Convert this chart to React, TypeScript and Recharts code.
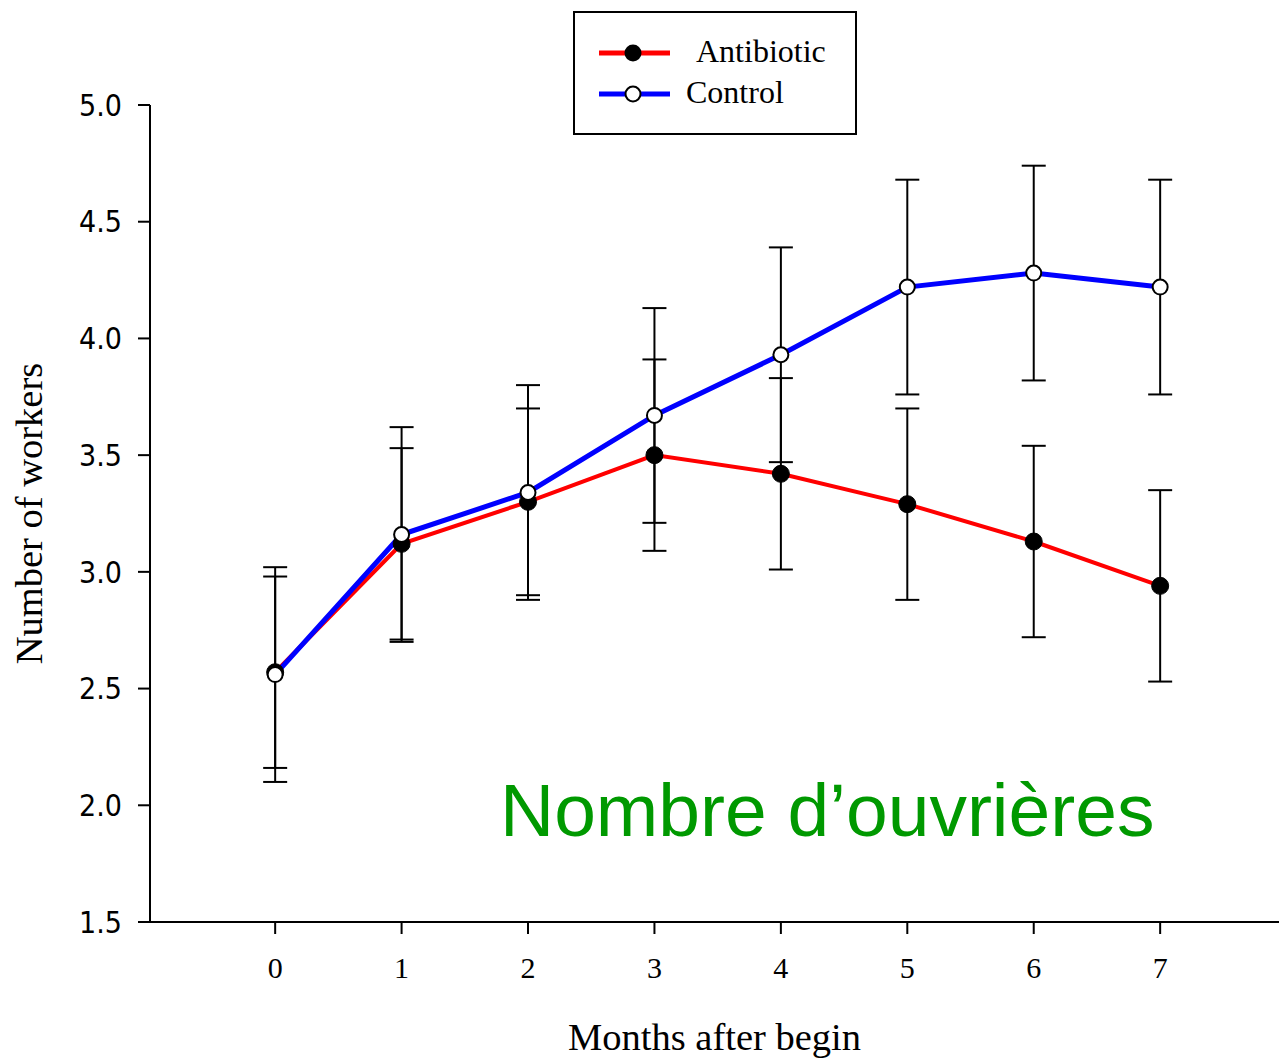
import { LineChart, Line, XAxis, YAxis, ErrorBar } from 'recharts'

const months = [0, 1, 2, 3, 4, 5, 6, 7]
const antibiotic = [2.57, 3.12, 3.30, 3.50, 3.42, 3.29, 3.13, 2.94]
const antibioticErr = [0.41, 0.41, 0.40, 0.41, 0.41, 0.41, 0.41, 0.41]
const control = [2.56, 3.16, 3.34, 3.67, 3.93, 4.22, 4.28, 4.22]
const controlErr = [0.46, 0.46, 0.46, 0.46, 0.46, 0.46, 0.46, 0.46]
const yTicks = [1.5, 2.0, 2.5, 3.0, 3.5, 4.0, 4.5, 5.0]

const data = months.map((m, i) => ({
  month: m,
  antibiotic: antibiotic[i],
  antibioticErr: antibioticErr[i],
  control: control[i],
  controlErr: controlErr[i],
}))

const serif = "'Liberation Serif', 'Times New Roman', serif"

// legend drawn as a plain box on top of the chart
const LegendBox = () => (
  <div
    style={{
      position: 'absolute',
      left: 573,
      top: 11,
      width: 280,
      height: 120,
      border: '2px solid black',
      background: 'white',
      fontFamily: serif,
      fontSize: 32,
      color: 'black',
    }}
  >
    <svg width={80} height={100} style={{ position: 'absolute', left: 22, top: 8 }}>
      <line x1={2} y1={32} x2={73} y2={32} stroke="#ff0000" strokeWidth={5} />
      <circle cx={36} cy={32} r={8.5} fill="black" />
      <line x1={2} y1={73} x2={73} y2={73} stroke="#0000ff" strokeWidth={5} />
      <circle cx={36} cy={73} r={7.5} fill="white" stroke="black" strokeWidth={2} />
    </svg>
    <div style={{ position: 'absolute', left: 121, top: 20 }}>Antibiotic</div>
    <div style={{ position: 'absolute', left: 111, top: 61 }}>Control</div>
  </div>
)

const WorkersChart = () => {
  return (
    <div style={{ position: 'absolute', left: 0, top: 0, width: 1279, height: 1059, background: 'white' }}>
      <LineChart
        width={1279}
        height={1059}
        data={data}
        margin={{ top: 105, right: 0, bottom: 0, left: 0 }}
      >
        <XAxis
          dataKey="month"
          type="number"
          domain={[-0.99, 7.94]}
          allowDataOverflow
          ticks={months}
          height={137}
          tickSize={12}
          tickMargin={23}
          stroke="black"
          strokeWidth={2}
          tick={{ fill: 'black', fontFamily: serif, fontSize: 30 }}
          label={{
            value: 'Months after begin',
            position: 'insideBottom',
            offset: 9,
            style: { fill: 'black', fontFamily: serif, fontSize: 38.5 },
          }}
        />
        <YAxis
          type="number"
          domain={[1.5, 5]}
          ticks={yTicks}
          width={150}
          tickSize={12}
          tickMargin={16}
          stroke="black"
          strokeWidth={2}
          tickFormatter={(v: number) => v.toFixed(1)}
          tick={{ fill: 'black', fontFamily: "'DejaVu Sans Condensed', 'DejaVu Sans', sans-serif", fontSize: 30, fontStretch: 'condensed' }}
          label={{
            value: 'Number of workers',
            angle: -90,
            position: 'insideLeft',
            offset: 28,
            style: { textAnchor: 'middle', fill: 'black', fontFamily: serif, fontSize: 38.5 },
          }}
        />
        <Line
          dataKey="antibiotic"
          name="Antibiotic"
          stroke="#ff0000"
          strokeWidth={4}
          dot={{ r: 8.5, fill: 'black', stroke: 'black', strokeWidth: 1 }}
          activeDot={false}
          isAnimationActive={false}
        >
          <ErrorBar dataKey="antibioticErr" width={12} stroke="black" strokeWidth={2} />
        </Line>
        <Line
          dataKey="control"
          name="Control"
          stroke="#0000ff"
          strokeWidth={5}
          dot={{ r: 7.5, fill: 'white', stroke: 'black', strokeWidth: 2 }}
          activeDot={false}
          isAnimationActive={false}
        >
          <ErrorBar dataKey="controlErr" width={12} stroke="black" strokeWidth={2} />
        </Line>
      </LineChart>
      <LegendBox />
      <div
        style={{
          position: 'absolute',
          left: 500,
          top: 765,
          fontFamily: "'Liberation Sans', Arial, sans-serif",
          fontSize: 75,
          color: '#009900',
          lineHeight: '90px',
          whiteSpace: 'nowrap',
        }}
      >
        Nombre d’ouvrières
      </div>
    </div>
  )
}

export default function App() {
  return <WorkersChart />
}
